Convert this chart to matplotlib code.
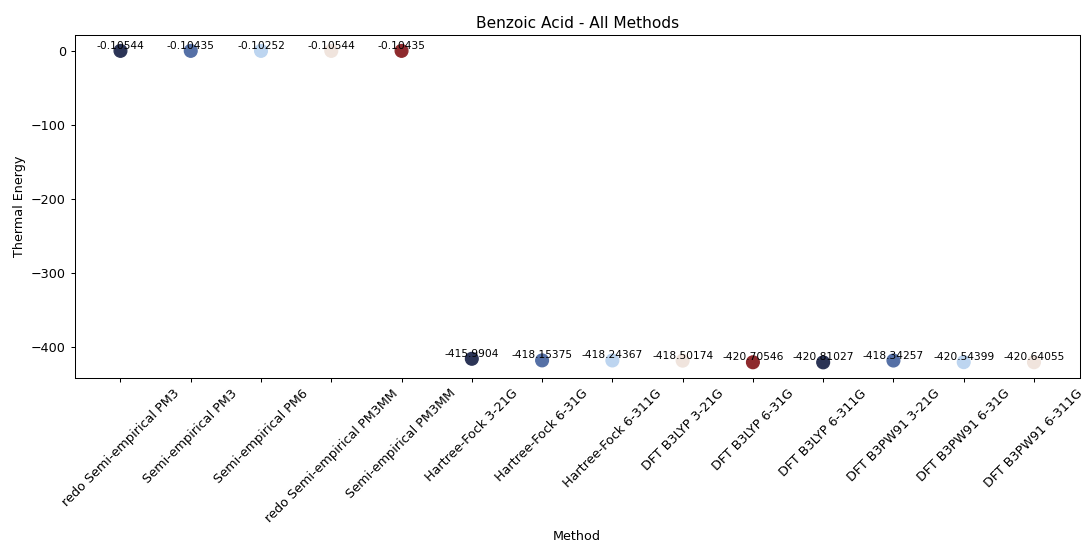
import matplotlib
matplotlib.use('Agg')
import matplotlib.pyplot as plt

# thermal energy per method, benzoic acid
methods = ['redo Semi-empirical PM3', 'Semi-empirical PM3', 'Semi-empirical PM6',
           'redo Semi-empirical PM3MM', 'Semi-empirical PM3MM',
           'Hartree-Fock 3-21G', 'Hartree-Fock 6-31G', 'Hartree-Fock 6-311G',
           'DFT B3LYP 3-21G', 'DFT B3LYP 6-31G', 'DFT B3LYP 6-311G',
           'DFT B3PW91 3-21G', 'DFT B3PW91 6-31G', 'DFT B3PW91 6-311G']
energy = [-0.10544, -0.10435, -0.10252, -0.10544, -0.10435,
          -415.9904, -418.15375, -418.24367,
          -418.50174, -420.70546, -420.81027,
          -418.34257, -420.54399, -420.64055]
energy_labels = ['-0.10544', '-0.10435', '-0.10252', '-0.10544', '-0.10435',
                 '-415.9904', '-418.15375', '-418.24367',
                 '-418.50174', '-420.70546', '-420.81027',
                 '-418.34257', '-420.54399', '-420.64055']
palette = ['#2b3456', '#5570a6', '#bdd5f0', '#f0e4dd', '#8e2a2d']

dpi = 92
fig, ax = plt.subplots(figsize=(1084 / dpi, 543 / dpi), dpi=dpi)
colors = [palette[i % len(palette)] for i in range(len(methods))]
ax.scatter(methods, energy, c=colors, s=100, zorder=3)

for m, e, lab in zip(methods, energy, energy_labels):
    ax.text(m, e, lab, ha='center', va='bottom', fontsize=8.3)

ax.set_title('Benzoic Acid - All Methods')
ax.set_xlabel('Method')
ax.set_ylabel('Thermal Energy')
plt.xticks(rotation=45)

plt.subplots_adjust(left=0.069, right=0.996, top=0.935, bottom=0.304)
plt.savefig('out.png', dpi=dpi)
